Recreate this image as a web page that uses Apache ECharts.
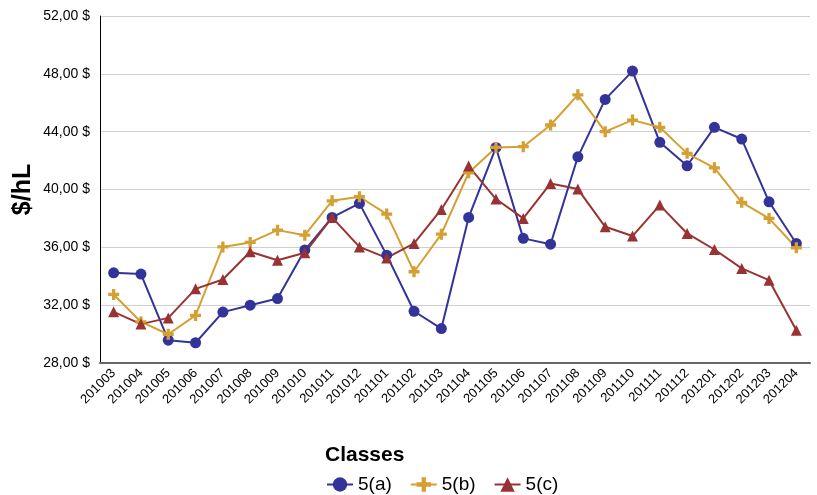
<!DOCTYPE html>
<html>
<head>
<meta charset="utf-8">
<script src="https://cdn.jsdelivr.net/npm/echarts@6/dist/echarts.min.js"></script>
<style>
html,body{margin:0;padding:0;background:#fff;}
#chart{width:817px;height:495px;}
</style>
</head>
<body>
<div id="chart"></div>
<script>
const categories = ['201003','201004','201005','201006','201007','201008','201009','201010','201011','201012','201101','201102','201103','201104','201105','201106','201107','201108','201109','201110','201111','201112','201201','201202','201203','201204'];
const seriesA = [34.24,34.15,29.58,29.40,31.52,32.00,32.46,35.81,38.07,39.04,35.46,31.58,30.38,38.07,42.91,36.62,36.22,42.26,46.23,48.19,43.26,41.64,44.30,43.49,39.15,36.27];
const seriesB = [32.74,30.84,29.99,31.29,36.03,36.34,37.19,36.84,39.22,39.50,38.30,34.31,36.91,41.16,42.91,42.96,44.46,46.55,44.00,44.80,44.30,42.50,41.50,39.11,38.00,35.97];
const seriesC = [31.54,30.69,31.12,33.13,33.78,35.69,35.11,35.62,38.07,36.03,35.27,36.27,38.62,41.62,39.34,38.00,40.42,40.03,37.42,36.78,38.92,36.96,35.85,34.54,33.73,30.27];
const seriesNames = ['5(a)','5(b)','5(c)'];
const yTicks = {min:28, max:52, interval:4};

const font = 'Liberation Sans';
const plusPath = 'path://M3.5,0h3v3.5h3.5v3h-3.5v3.5h-3v-3.5h-3.5v-3h3.5z';
const chart = echarts.init(document.getElementById('chart'));
chart.setOption({
  animation:false,
  textStyle:{fontFamily:font},
  title:{text:'Classes', left:320, top:440, textStyle:{fontFamily:font,fontSize:21,fontWeight:'bold',color:'#000'}},
  legend:{left:321, top:470, itemGap:18, itemWidth:26, itemHeight:18,
    textStyle:{fontFamily:font,fontSize:19,color:'#000'},
    data:seriesNames},
  grid:{left:100, right:7, top:16, bottom:132, containLabel:false},
  xAxis:{type:'category', data:categories, boundaryGap:true,
    axisLine:{lineStyle:{color:'#666',width:2}},
    axisTick:{show:false},
    axisLabel:{rotate:45, fontSize:13, color:'#000', margin:8, fontFamily:font, interval:0}},
  yAxis:{type:'value', min:yTicks.min, max:yTicks.max, interval:yTicks.interval,
    name:'$/hL', nameLocation:'middle', nameGap:64, nameRotate:90, nameMoveOverlap:false,
    nameTextStyle:{fontFamily:font,fontSize:25,fontWeight:'bold',color:'#000'},
    axisLine:{show:true,lineStyle:{color:'#000',width:1}},
    axisTick:{show:false},
    splitLine:{lineStyle:{color:'#d0d0d0',width:1}},
    axisLabel:{fontSize:14,color:'#000',margin:10,fontFamily:font,
      formatter:v=>v.toFixed(2).replace('.',',')+' $'}},
  series:[
    {name:seriesNames[0], type:'line', data:seriesA, symbol:'circle', symbolSize:11,
      lineStyle:{color:'#333399',width:2}, itemStyle:{color:'#333399'}},
    {name:seriesNames[1], type:'line', data:seriesB, symbol:plusPath, symbolSize:11,
      lineStyle:{color:'#d49f33',width:2}, itemStyle:{color:'#d49f33'}},
    {name:seriesNames[2], type:'line', data:seriesC, symbol:'triangle', symbolSize:11,
      lineStyle:{color:'#993333',width:2}, itemStyle:{color:'#993333'}}
  ]
});
</script>
</body>
</html>
